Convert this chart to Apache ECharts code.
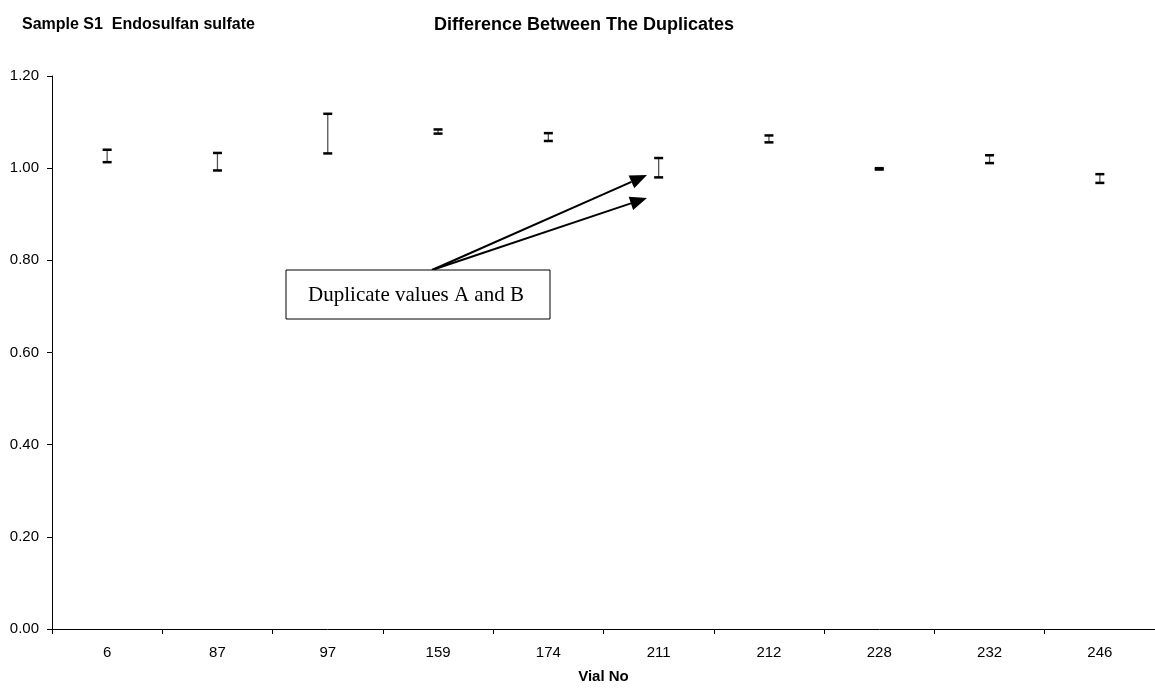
<!DOCTYPE html>
<html>
<head>
<meta charset="utf-8">
<script src="https://cdn.jsdelivr.net/npm/echarts@6/dist/echarts.min.js"></script>
<style>
  html, body { margin: 0; padding: 0; background: #fff; }
  #chart { width: 1155px; height: 689px; }
</style>
</head>
<body>
<div id="chart"></div>
<script>
// Datos
const vials = ['6', '87', '97', '159', '174', '211', '212', '228', '232', '246'];
const valueA = [1.040, 1.033, 1.118, 1.084, 1.076, 1.022, 1.071, 1.000, 1.028, 0.987];
const valueB = [1.013, 0.995, 1.032, 1.075, 1.059, 0.980, 1.056, 0.997, 1.011, 0.968];
const yTicks = [0, 0.2, 0.4, 0.6, 0.8, 1.0, 1.2];

const chart = echarts.init(document.getElementById('chart'));

// Flecha: línea + punta triangular
function arrow(x1, y1, x2, y2) {
    const len = 17, half = 7;
    const dx = x2 - x1, dy = y2 - y1;
    const d = Math.sqrt(dx * dx + dy * dy);
    const ux = dx / d, uy = dy / d;
    const bx = x2 - ux * len, by = y2 - uy * len;
    return [
        { type: 'line', shape: { x1: x1, y1: y1, x2: bx, y2: by }, style: { stroke: '#000', lineWidth: 2 } },
        { type: 'polygon', shape: { points: [[x2, y2], [bx - uy * half, by + ux * half], [bx + uy * half, by - ux * half]] }, style: { fill: '#000' } }
    ];
}

const option = {
    backgroundColor: '#fff',
    animation: false,
    title: [
        { text: 'Sample S1  Endosulfan sulfate', left: 17, top: 12,
          textStyle: { fontFamily: 'Liberation Sans', fontSize: 16, fontWeight: 'bold', color: '#000' } },
        { text: 'Difference Between The Duplicates', left: 429, top: 11,
          textStyle: { fontFamily: 'Liberation Sans', fontSize: 18, fontWeight: 'bold', color: '#000' } }
    ],
    grid: { left: 52, right: 0, top: 76, bottom: 60 },
    xAxis: {
        type: 'category',
        data: vials,
        name: 'Vial No',
        nameLocation: 'middle',
        nameGap: 40,
        nameTextStyle: { fontFamily: 'Liberation Sans', fontSize: 15, fontWeight: 'bold', color: '#000' },
        axisLine: { lineStyle: { color: '#000', width: 1 } },
        axisTick: { show: true, length: 5, lineStyle: { color: '#000' } },
        axisLabel: { fontFamily: 'Liberation Sans', fontSize: 15, color: '#000', margin: 16 },
        splitLine: { show: false }
    },
    yAxis: {
        type: 'value',
        min: yTicks[0],
        max: yTicks[yTicks.length - 1],
        interval: 0.2,
        axisLine: { show: true, lineStyle: { color: '#000', width: 1 } },
        axisTick: { show: true, length: 5, lineStyle: { color: '#000' } },
        axisLabel: { fontFamily: 'Liberation Sans', fontSize: 15, color: '#000', margin: 13,
                     formatter: v => v.toFixed(2) },
        splitLine: { show: false }
    },
    series: [{
        type: 'custom',
        data: vials.map((v, i) => [i, valueB[i], valueA[i]]),
        renderItem: function (params, api) {
            const lo = api.coord([api.value(0), api.value(1)]);
            const hi = api.coord([api.value(0), api.value(2)]);
            const w = 4.5;
            return {
                type: 'group',
                children: [
                    { type: 'line', shape: { x1: lo[0], y1: lo[1], x2: hi[0], y2: hi[1] },
                      style: { stroke: '#555', lineWidth: 1.3 } },
                    { type: 'line', shape: { x1: hi[0] - w, y1: hi[1], x2: hi[0] + w, y2: hi[1] },
                      style: { stroke: '#000', lineWidth: 2.5 } },
                    { type: 'line', shape: { x1: lo[0] - w, y1: lo[1], x2: lo[0] + w, y2: lo[1] },
                      style: { stroke: '#000', lineWidth: 2.5 } }
                ]
            };
        }
    }],
    graphic: [
        ...arrow(432, 270, 647, 175),
        ...arrow(432, 270, 647, 198),
        { type: 'rect', shape: { x: 286, y: 270, width: 264, height: 49 },
          style: { fill: '#fff', stroke: '#000', lineWidth: 1 } },
        { type: 'text', x: 416, y: 295,
          style: { text: 'Duplicate values A and B', fontFamily: 'Liberation Serif', fontSize: 21,
                   fill: '#000', align: 'center', verticalAlign: 'middle' } }
    ]
};

chart.setOption(option);
</script>
</body>
</html>
